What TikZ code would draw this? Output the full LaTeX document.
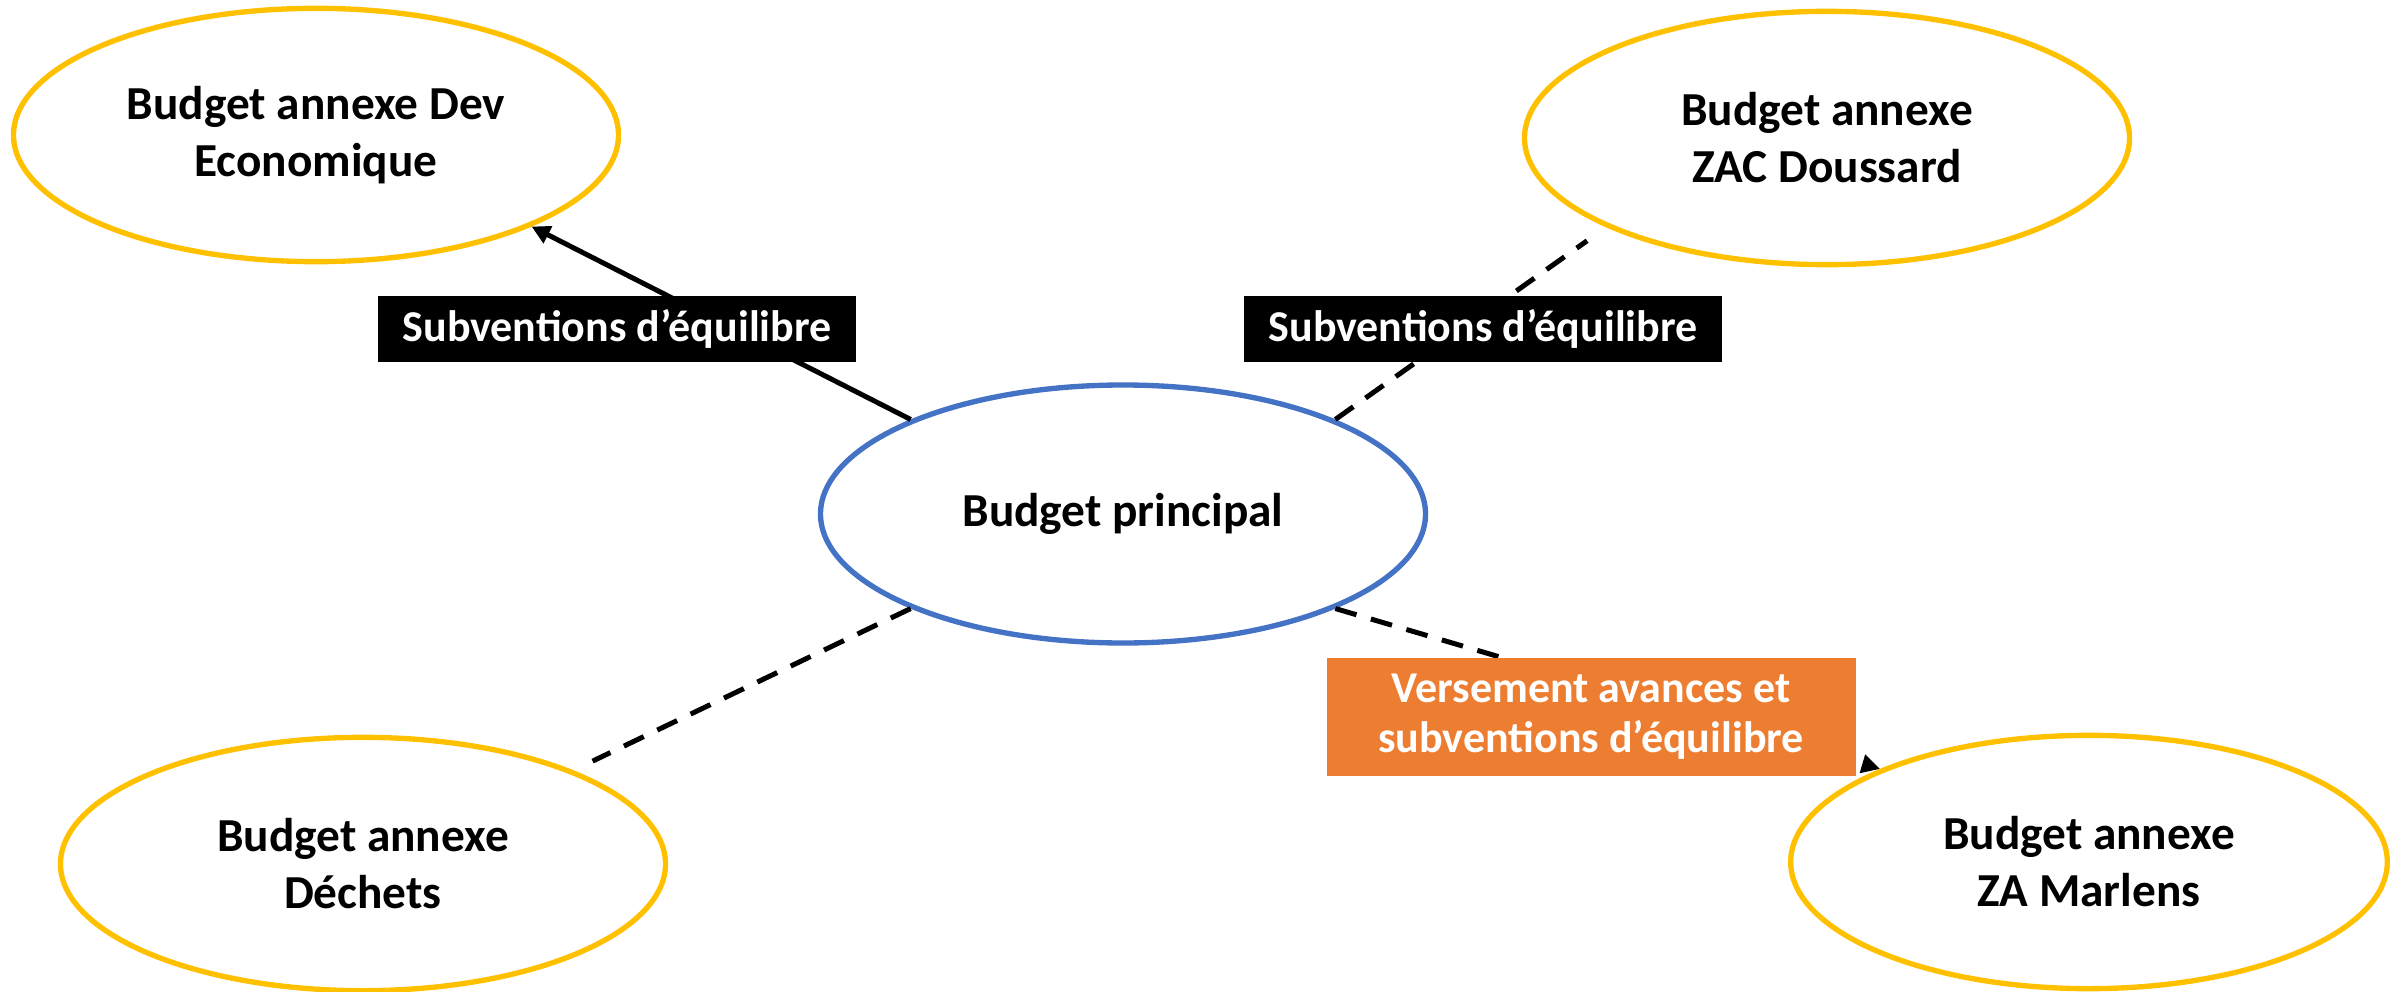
\documentclass[tikz,border=0pt]{standalone}
\usepackage{fontspec}
\setmainfont{Carlito}
\usepackage{tikz}
\usetikzlibrary{arrows.meta}
\usetikzlibrary{shapes.geometric}

\definecolor{annexeyellow}{HTML}{FFC000}
\definecolor{mainblue}{HTML}{4472C4}
\definecolor{boxorange}{HTML}{ED7D31}

\begin{document}
\begin{tikzpicture}[x=0.3pt,y=-0.3pt,
    budget/.style={ellipse,draw,line width=1.6pt,inner sep=0pt,align=center,
      font=\fontsize{14.2pt}{17.1pt}\selectfont\bfseries},
    annexe/.style={budget,draw=annexeyellow,minimum width=181.5pt,minimum height=76pt},
    flowlabel/.style={fill=black,text=white,inner sep=0pt,align=center,
      font=\fontsize{13.2pt}{15pt}\selectfont\bfseries},
    link/.style={line width=1.5pt},
    dashlink/.style={link,dash pattern=on 6.6pt off 4.5pt},
    >={Triangle[length=5.5pt,width=5.5pt]}]
    \useasboundingbox (0,0) rectangle (2390,992);

    \node (main) [budget,draw=mainblue,minimum width=181.5pt,minimum height=77.4pt] at (1123,514) {Budget principal};

    \node (deveco) [annexe] at (316,135) {Budget annexe Dev\\Economique};
    \node (zac) [annexe] at (1827,138) {Budget annexe\\ZAC Doussard};
    \node (dechets) [annexe] at (363,864) {Budget annexe\\Déchets};
    \node (marlens) [annexe,minimum width=179pt] at (2089,862) {Budget annexe\\ZA Marlens};

    \path [->] (main.156) edge[link] (deveco.-23.4);
    \path (main.24) edge[dashlink,shorten >=7pt] (zac.202);
    \path [->] (main.-24) edge[dashlink] (marlens.156.6);
    \path (main.204) edge[dashlink,shorten >=6.4pt] (dechets.24);

    \node (subv1) [flowlabel,minimum width=143.4pt,minimum height=19.8pt] at (617,329) {Subventions d’équilibre};
    \node (subv2) [flowlabel,minimum width=143.4pt,minimum height=19.8pt] at (1483,329) {Subventions d’équilibre};
    \node (avances) [flowlabel,fill=boxorange,minimum width=158.7pt,minimum height=35.4pt] at (1591,717) {Versement avances et\\subventions d’équilibre};
\end{tikzpicture}
\end{document}
